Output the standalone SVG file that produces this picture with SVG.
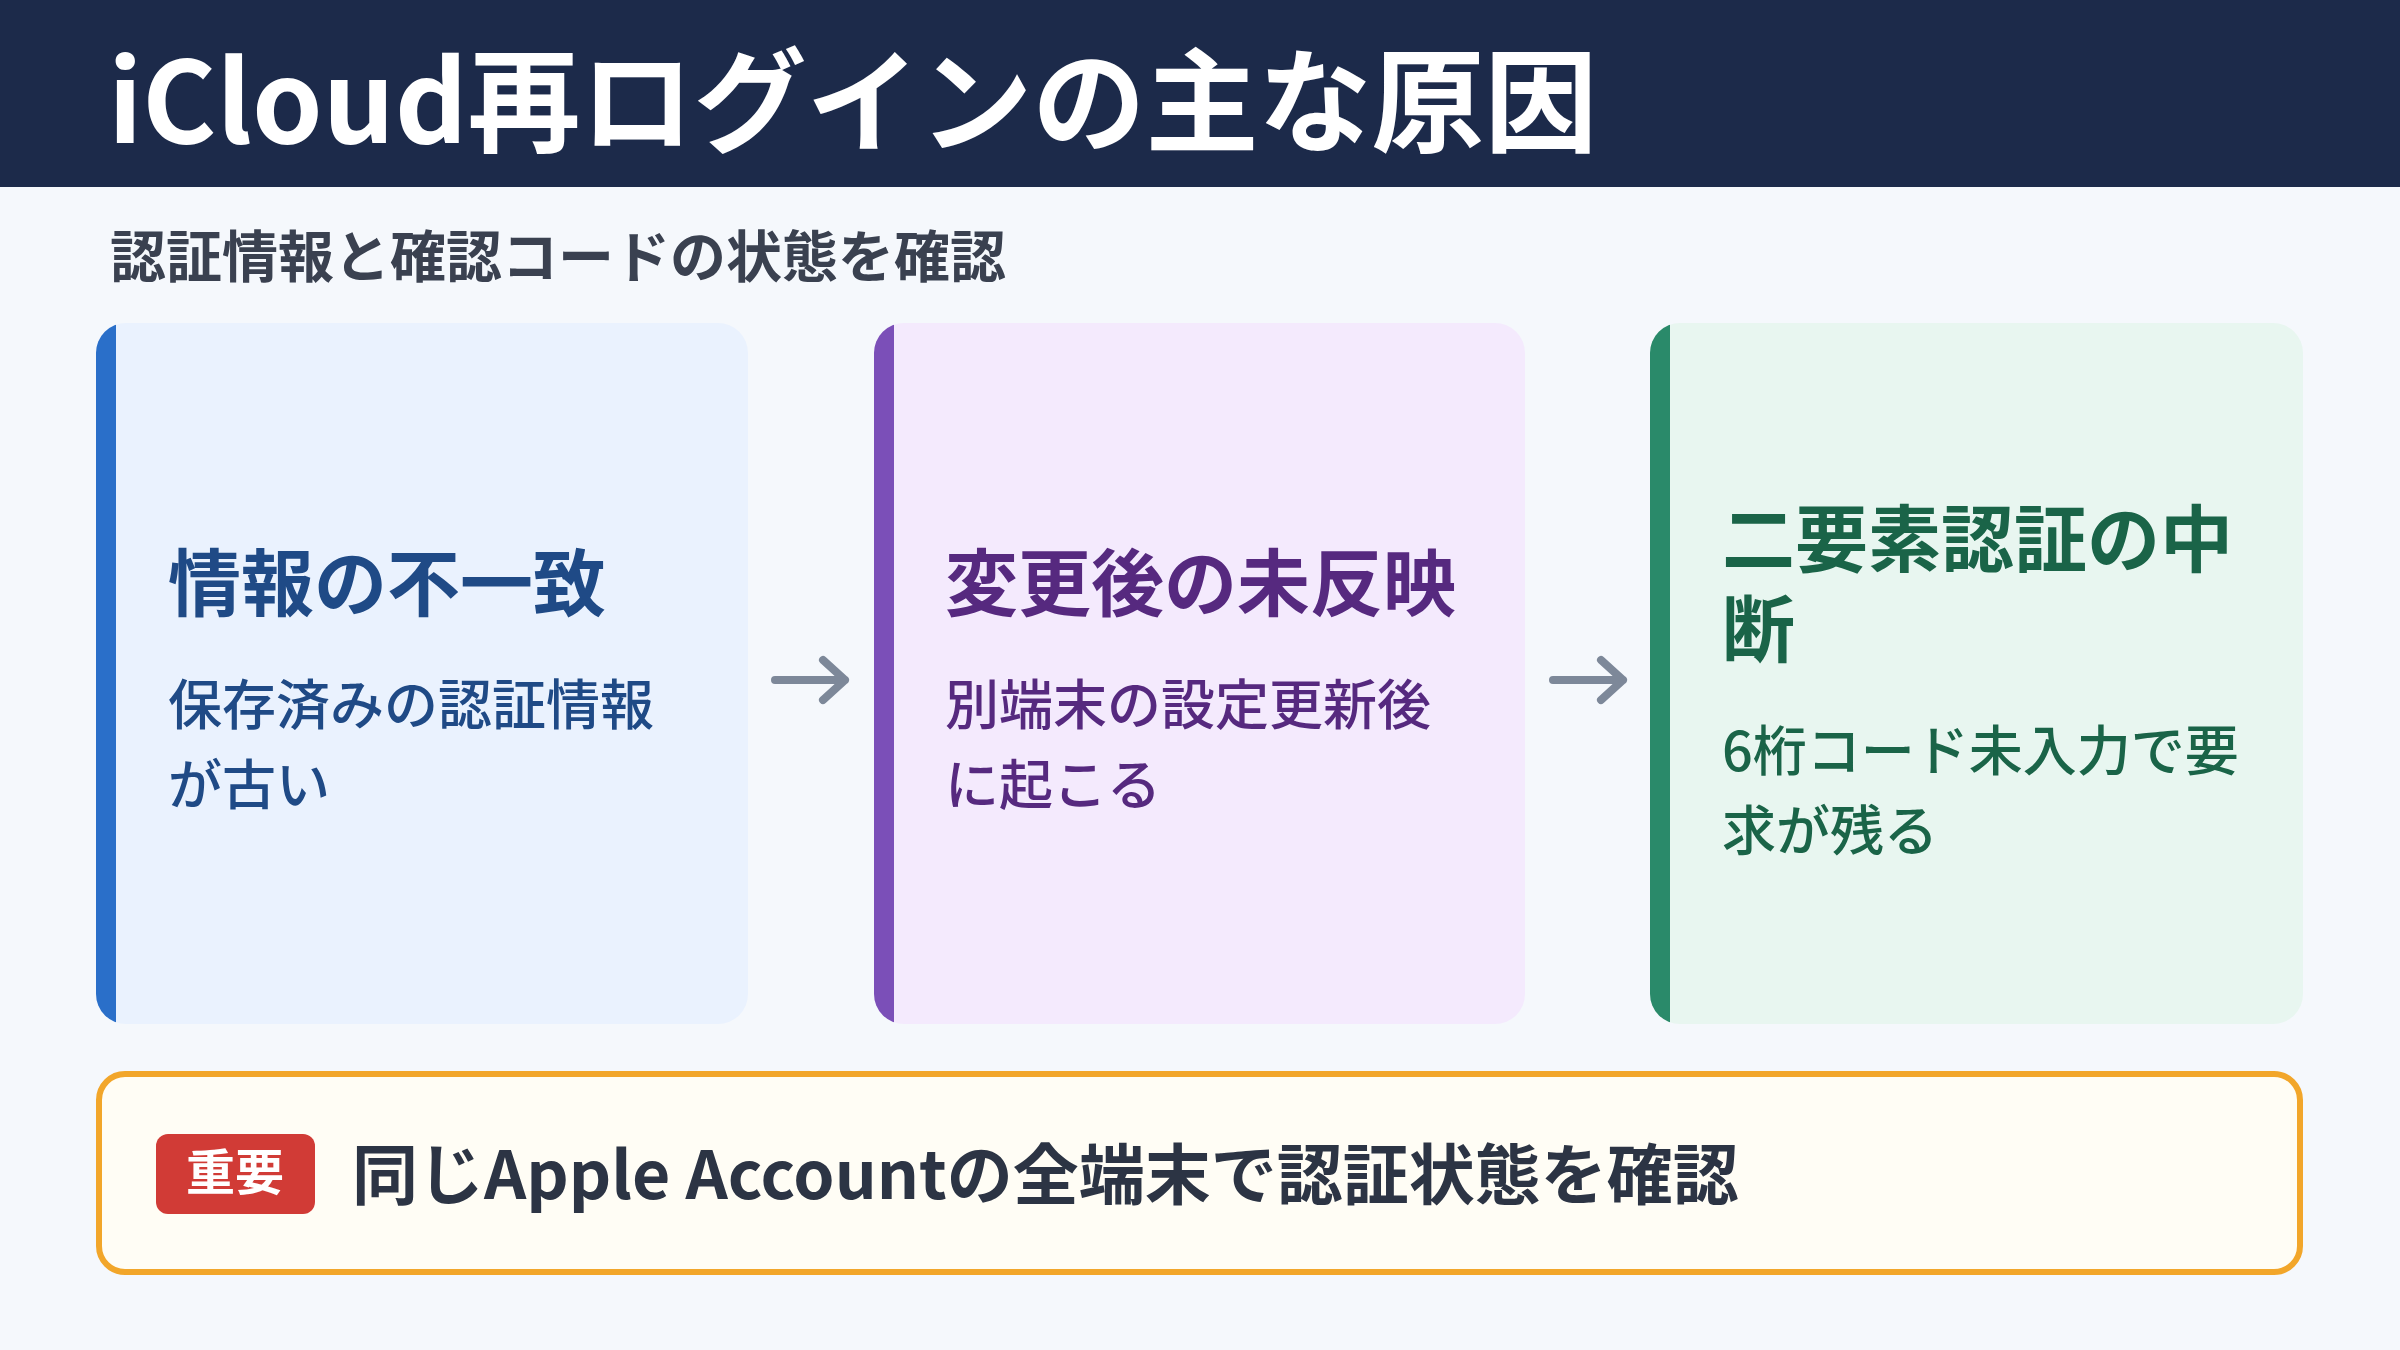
<svg xmlns="http://www.w3.org/2000/svg" width="2400" height="1350" viewBox="0 0 2400 1350">
<defs>
<style>
text{font-family:"Noto Sans CJK JP","Noto Sans",sans-serif;font-weight:700}
.ct{font-size:73px}
.cb{font-size:54px;font-weight:500}
.arr{stroke:#7d8899;stroke-width:8;fill:none;stroke-linecap:round;stroke-linejoin:round}
</style>
<clipPath id="c1"><rect x="96" y="323" width="652" height="701" rx="30"/></clipPath>
<clipPath id="c2"><rect x="874" y="323" width="651" height="701" rx="30"/></clipPath>
<clipPath id="c3"><rect x="1650" y="323" width="653" height="701" rx="30"/></clipPath>
</defs>
<rect width="2400" height="1350" fill="#f5f8fc"/>
<g id="header"><rect width="2400" height="187" fill="#1c2a4a"/>
<text x="108" y="143" font-size="113" fill="#fff">iCloud再ログインの主な原因</text></g>
<text id="subtitle" x="110" y="277" font-size="56" fill="#3a4150">認証情報と確認コードの状態を確認</text>
<g id="card1" clip-path="url(#c1)"><rect x="96" y="323" width="652" height="701" fill="#eaf2fe"/><rect x="96" y="323" width="20" height="701" fill="#2a6fc9"/>
<text class="ct" x="168" y="610" fill="#1f4a86">情報の不一致</text>
<text class="cb" fill="#1f4a86"><tspan x="168" y="725">保存済みの認証情報</tspan><tspan x="168" y="805">が古い</tspan></text></g>
<g id="card2" clip-path="url(#c2)"><rect x="874" y="323" width="651" height="701" fill="#f4eafd"/><rect x="874" y="323" width="20" height="701" fill="#7b4fb8"/>
<text class="ct" x="945" y="610" fill="#56297f">変更後の未反映</text>
<text class="cb" fill="#56297f"><tspan x="945" y="725">別端末の設定更新後</tspan><tspan x="945" y="805">に起こる</tspan></text></g>
<g id="card3" clip-path="url(#c3)"><rect x="1650" y="323" width="653" height="701" fill="#e8f6f0"/><rect x="1650" y="323" width="20" height="701" fill="#2a8a6a"/>
<text class="ct" fill="#1a6448"><tspan x="1722" y="566">二要素認証の中</tspan><tspan x="1722" y="656">断</tspan></text>
<text class="cb" fill="#1a6448"><tspan x="1722" y="771">6桁コード未入力で要</tspan><tspan x="1722" y="851">求が残る</tspan></text></g>
<g id="connectors">
<path class="arr" d="M775 680H845M823 660L845 680L823 700"/>
<path class="arr" d="M1553 680H1623M1601 660L1623 680L1601 700"/>
</g>
<g id="note"><rect x="99" y="1074" width="2201" height="198" rx="26" fill="#fffdf5" stroke="#f2a62a" stroke-width="6"/>
<rect x="156" y="1134" width="159" height="80" rx="12" fill="#d13b36"/>
<text x="235" y="1190" font-size="49" fill="#fff" text-anchor="middle">重要</text>
<text x="352" y="1199" font-size="66" fill="#2c3444">同じApple Accountの全端末で認証状態を確認</text></g>
</svg>
